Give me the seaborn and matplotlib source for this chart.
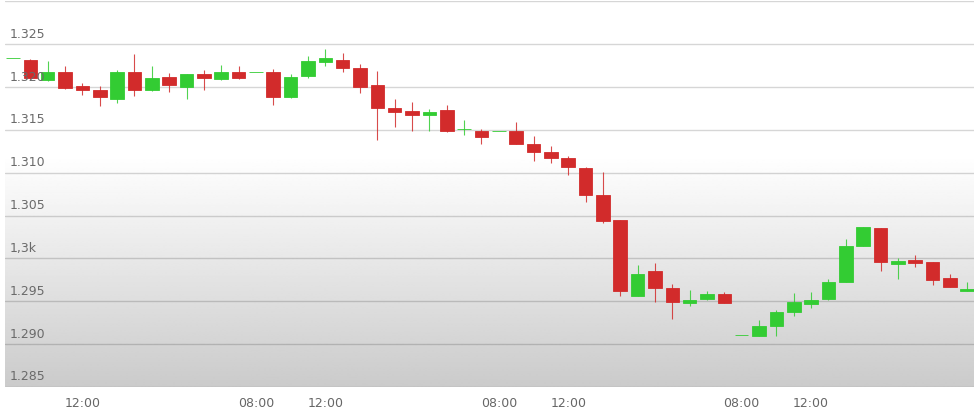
import numpy as np
import pandas as pd
import matplotlib
matplotlib.use("Agg")
import matplotlib.pyplot as plt
import matplotlib.transforms as mtransforms
import seaborn as sns

# ---- data (hourly candles) ----
opens = [1.3234, 1.3232, 1.3208, 1.3217, 1.3201, 1.3196, 1.3186, 1.3217, 1.3196, 1.3212,
         1.3200, 1.3215, 1.3209, 1.3217, 1.3218, 1.3217, 1.3188, 1.3213, 1.3229, 1.3232,
         1.3222, 1.3202, 1.3176, 1.3172, 1.3167, 1.3173, 1.3151, 1.3149, 1.3149, 1.3149,
         1.3134, 1.3124, 1.3117, 1.3105, 1.3074, 1.3045, 1.2956, 1.2985, 1.2966, 1.2948,
         1.2953, 1.2959, 1.2911, 1.2910, 1.2921, 1.2938, 1.2947, 1.2953, 1.2973, 1.3015,
         1.3035, 1.2993, 1.2998, 1.2996, 1.2977, 1.2962]
highs = [1.3234, 1.3233, 1.3230, 1.3225, 1.3205, 1.3201, 1.3220, 1.3238, 1.3224, 1.3216,
         1.3215, 1.3220, 1.3226, 1.3225, 1.3218, 1.3221, 1.3215, 1.3236, 1.3244, 1.3240,
         1.3227, 1.3219, 1.3186, 1.3182, 1.3174, 1.3179, 1.3162, 1.3151, 1.3149, 1.3159,
         1.3143, 1.3131, 1.3119, 1.3107, 1.3101, 1.3045, 1.2992, 1.2995, 1.2970, 1.2963,
         1.2962, 1.2961, 1.2911, 1.2928, 1.2940, 1.2960, 1.2961, 1.2976, 1.3023, 1.3037,
         1.3036, 1.3001, 1.3004, 1.2996, 1.2982, 1.2973]
lows = [1.3234, 1.3209, 1.3207, 1.3198, 1.3191, 1.3178, 1.3181, 1.3190, 1.3195, 1.3194,
        1.3186, 1.3197, 1.3208, 1.3209, 1.3218, 1.3179, 1.3187, 1.3210, 1.3225, 1.3217,
        1.3193, 1.3138, 1.3153, 1.3149, 1.3149, 1.3147, 1.3144, 1.3133, 1.3149, 1.3133,
        1.3114, 1.3111, 1.3097, 1.3066, 1.3041, 1.2956, 1.2956, 1.2949, 1.2929, 1.2945,
        1.2951, 1.2948, 1.2911, 1.2909, 1.2909, 1.2933, 1.2942, 1.2952, 1.2973, 1.3015,
        1.2985, 1.2976, 1.2990, 1.2969, 1.2967, 1.2962]
closes = [1.3234, 1.3210, 1.3218, 1.3199, 1.3197, 1.3188, 1.3217, 1.3196, 1.3210, 1.3202,
          1.3215, 1.3210, 1.3218, 1.3211, 1.3218, 1.3188, 1.3212, 1.3230, 1.3234, 1.3222,
          1.3200, 1.3176, 1.3171, 1.3167, 1.3171, 1.3149, 1.31515, 1.3142, 1.3149, 1.3134,
          1.3124, 1.3117, 1.3107, 1.3074, 1.3044, 1.2962, 1.2982, 1.2966, 1.2949, 1.2951,
          1.2959, 1.2948, 1.2911, 1.2921, 1.2938, 1.2949, 1.2952, 1.2973, 1.3015, 1.3037,
          1.2996, 1.2997, 1.2995, 1.2975, 1.2967, 1.2964]

xtick_pos = [4, 14, 18, 28, 32, 42, 46]
xtick_labels = ["12:00", "08:00", "12:00", "08:00", "12:00", "08:00", "12:00"]
ytick_vals = [1.285, 1.290, 1.295, 1.300, 1.305, 1.310, 1.315, 1.320, 1.325, 1.330]
ytick_labels = ["1.285", "1.290", "1.295", "1,3k", "1.305", "1.310", "1.315", "1.320", "1.325", ""]

df = pd.DataFrame({"open": opens, "high": highs, "low": lows, "close": closes})
df["idx"] = np.arange(len(df))
df["up"] = df["close"] >= df["open"]

UP = "#33cc33"
DOWN = "#d22b2b"

sns.set_theme(style="white")
plt.rcParams["font.family"] = ["DejaVu Sans"]

W, H = 974, 408
fig = plt.figure(figsize=(W / 100, H / 100), dpi=100)
fig.patch.set_facecolor("white")
ax = fig.add_axes([5 / W, (H - 387) / H, (W - 5) / W, (387 - 1.3) / H])

# gradient background
frac = np.linspace(0, 1, 256)
shade = np.where(frac < 0.6, 203 + (255 - 203) * frac / 0.6, 255) / 255.0
grad = np.repeat(shade[:, None], 2, axis=1)
ax.imshow(grad, cmap="gray", vmin=0, vmax=1, origin="lower", aspect="auto",
          extent=[0, 1, 0, 1], transform=ax.transAxes, zorder=0, interpolation="bilinear")

# gridlines
for v in ytick_vals:
    ax.axhline(v, color="black", alpha=0.16, lw=1.0, zorder=1)

# wicks
for up, col in [(True, UP), (False, DOWN)]:
    d = df[df["up"] == up]
    ax.vlines(d["idx"], d["low"], d["high"], color=col, lw=0.8, alpha=0.85, zorder=2)

# bodies
bw = 0.78
for up, col in [(True, UP), (False, DOWN)]:
    d = df[df["up"] == up]
    bottom = np.minimum(d["open"], d["close"])
    height = np.abs(d["close"] - d["open"])
    ax.bar(d["idx"], height, bottom=bottom, width=bw, color=col,
           edgecolor=col, linewidth=0.6, zorder=3)

ax.set_xlim((5 - 13) / 17.35, (974 - 13) / 17.35)
ax.set_ylim(1.285, 1.330)

ax.set_yticks([])
ax.set_xticks(xtick_pos)
ax.set_xticklabels(xtick_labels)
ax.tick_params(axis="x", length=0, pad=7, labelsize=9, labelcolor="#666666")
for s in ax.spines.values():
    s.set_visible(False)

offset = mtransforms.ScaledTranslation(0, 3.5 / 100, fig.dpi_scale_trans)
trans = mtransforms.blended_transform_factory(ax.transAxes, ax.transData) + offset
for v, lab in zip(ytick_vals, ytick_labels):
    if lab:
        ax.text(5 / (W - 5), v, lab, transform=trans, ha="left", va="bottom",
                fontsize=9, color="#6a6a6a", zorder=4)

fig.savefig("out.png", dpi=100, facecolor="white")
